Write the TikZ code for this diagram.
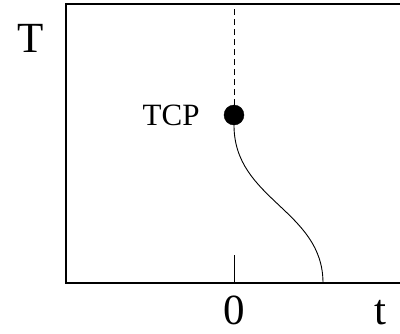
\documentclass[tikz,border=0pt]{standalone}
\usepackage{fontspec}
\setmainfont{Liberation Serif}
\usetikzlibrary{positioning}

\begin{document}
\begin{tikzpicture}[x=1pt,y=-1pt]
\tikzset{big/.style={font=\fontsize{43}{45}\selectfont,inner sep=0pt,anchor=base}}
\useasboundingbox (0,0) rectangle (400,333);
\coordinate (tl) at (66,4);\coordinate (bl) at (66,283);\coordinate (tr) at (400,4);\coordinate (br) at (400,283);
\draw[line width=1.6pt] (tr)--(tl)--(bl)--(br);
\node[draw,circle,fill=black,inner sep=0pt,minimum size=20pt] (tcp) at (234,115){};
\coordinate (top) at (234,4);\coordinate (end) at (323,283);\coordinate (tick) at (234,255);\coordinate (zero) at (234,283);
\draw[dashed,dash pattern=on 6pt off 4pt,line width=.8pt] (tcp.north)--(top);
\draw[line width=.9pt] (tcp.south) .. controls (234,200) and (323,210) .. (end);
\draw[line width=.9pt] (tick)--(zero);
\node[big] (T) at (31,52){T};
\node[font=\fontsize{31}{33}\selectfont,inner sep=0pt,left=24pt of tcp] (lbl){TCP};
\node[big] (z) at (234,324){0};\node[big] (t) at (380,324){t};
\end{tikzpicture}
\end{document}
